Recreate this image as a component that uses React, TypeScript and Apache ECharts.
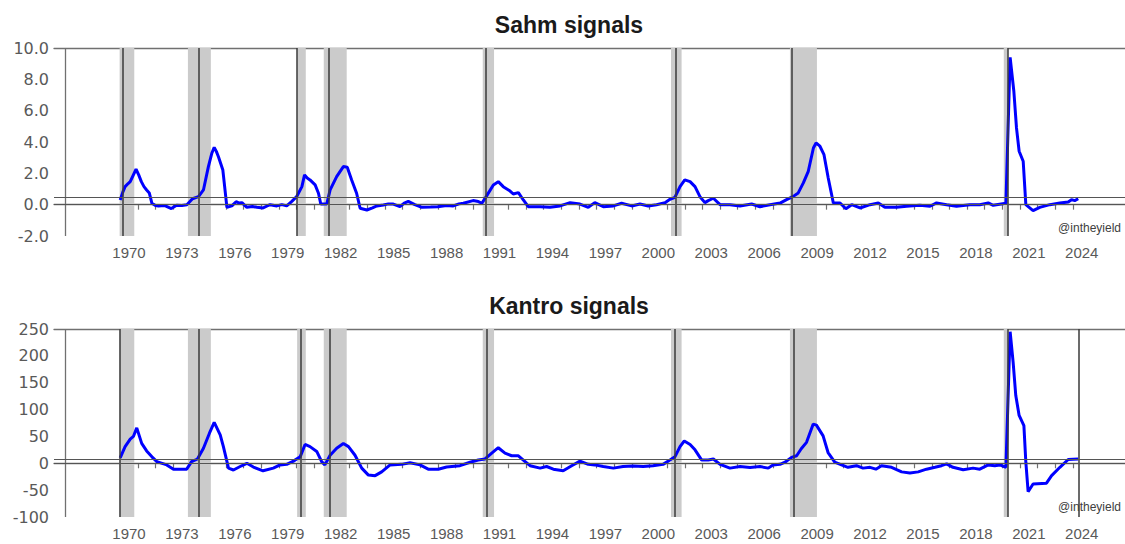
import React, { useEffect, useRef } from "react";
import * as echarts from "echarts";

// ---------- data ----------
const sahm: [number, number][] = [
  [1970.0, 0.3], [1970.15, 0.8], [1970.28, 1.15], [1970.45, 1.35], [1970.57, 1.47], [1970.75, 1.9], [1970.9, 2.26],
  [1971.05, 1.9], [1971.2, 1.47], [1971.35, 1.15], [1971.5, 0.94], [1971.65, 0.75], [1971.8, 0.09], [1972.0, -0.05],
  [1972.17, -0.08], [1972.5, -0.05], [1972.9, -0.25], [1973.2, -0.04], [1973.5, -0.05], [1973.78, 0.0], [1974.1, 0.38],
  [1974.44, 0.51], [1974.72, 0.94], [1975.0, 2.43], [1975.2, 3.3], [1975.33, 3.66], [1975.45, 3.4], [1975.57, 3.06],
  [1975.82, 2.21], [1976.05, -0.17], [1976.33, -0.08], [1976.57, 0.19], [1976.75, 0.1], [1976.9, 0.13], [1977.18, -0.17],
  [1977.5, -0.12], [1977.75, -0.17], [1978.1, -0.21], [1978.3, -0.1], [1978.5, 0.0], [1978.88, -0.08], [1979.16, 0.0],
  [1979.44, -0.08], [1979.73, 0.21], [1980.0, 0.51], [1980.3, 1.15], [1980.45, 1.9], [1980.6, 1.7], [1980.76, 1.58],
  [1981.05, 1.26], [1981.24, 0.73], [1981.37, 0.04], [1981.71, 0.04], [1981.9, 0.94], [1982.27, 1.79], [1982.65, 2.43],
  [1982.87, 2.39], [1983.12, 1.58], [1983.4, 0.73], [1983.6, -0.23], [1983.98, -0.34], [1984.3, -0.2], [1984.55, -0.08],
  [1984.92, -0.02], [1985.2, 0.05], [1985.48, 0.04], [1985.86, -0.13], [1986.1, 0.1], [1986.33, 0.21], [1986.7, 0.0],
  [1987.1, -0.17], [1987.6, -0.15], [1988.0, -0.13], [1988.5, -0.05], [1988.88, -0.08], [1989.2, 0.05], [1989.45, 0.09],
  [1990.0, 0.26], [1990.3, 0.2], [1990.5, 0.09], [1990.77, 0.56], [1991.15, 1.26], [1991.43, 1.47], [1991.71, 1.15],
  [1992.1, 0.87], [1992.28, 0.68], [1992.57, 0.77], [1992.85, 0.3], [1993.13, -0.13], [1993.8, -0.13], [1994.36, -0.17],
  [1994.93, -0.08], [1995.5, 0.13], [1996.06, 0.04], [1996.53, -0.17], [1996.9, 0.13], [1997.38, -0.13], [1997.95, -0.08],
  [1998.42, 0.09], [1998.99, -0.08], [1999.46, 0.04], [1999.93, -0.08], [2000.4, 0.0], [2000.88, 0.13], [2001.16, 0.34],
  [2001.44, 0.47], [2001.73, 1.15], [2002.0, 1.58], [2002.3, 1.47], [2002.58, 1.15], [2002.86, 0.51], [2003.14, 0.13],
  [2003.33, 0.26], [2003.62, 0.41], [2004.0, 0.0], [2004.56, 0.0], [2005.13, -0.08], [2005.79, 0.04], [2006.26, -0.13],
  [2006.83, 0.0], [2007.4, 0.1], [2007.77, 0.32], [2008.15, 0.53], [2008.43, 0.75], [2008.72, 1.39], [2009.0, 2.13],
  [2009.29, 3.62], [2009.44, 3.94], [2009.66, 3.73], [2009.89, 3.19], [2010.13, 1.7], [2010.42, 0.11], [2010.8, 0.11],
  [2011.13, -0.26], [2011.46, 0.0], [2011.93, -0.21], [2012.5, 0.0], [2012.97, 0.11], [2013.34, -0.17], [2014.0, -0.17],
  [2014.57, -0.1], [2015.32, -0.04], [2015.9, -0.1], [2016.27, 0.11], [2016.84, 0.0], [2017.4, -0.1], [2018.16, 0.0],
  [2018.72, 0.0], [2019.2, 0.11], [2019.48, -0.04], [2020.2, 0.09], [2020.44, 9.4], [2020.65, 7.24], [2020.8, 4.9],
  [2020.95, 3.41], [2021.18, 2.77], [2021.33, 0.0], [2021.74, -0.38], [2022.12, -0.17], [2022.69, 0.0], [2023.26, 0.11],
  [2023.73, 0.17], [2023.92, 0.32], [2024.1, 0.26], [2024.3, 0.38],
];

const kantro: [number, number][] = [
  [1970.0, 10], [1970.28, 31], [1970.57, 45], [1970.75, 50], [1970.94, 66], [1971.22, 37], [1971.5, 23], [1971.8, 12],
  [1972.08, 3], [1972.64, -3], [1973.02, -11], [1973.77, -11], [1974.05, 3], [1974.38, 8], [1974.72, 28], [1975.06, 56],
  [1975.33, 76], [1975.67, 53], [1975.85, 31], [1976.14, -9], [1976.42, -12.5], [1976.8, -6], [1977.18, 0], [1977.55, -7],
  [1978.1, -14], [1978.68, -9], [1979.06, -3], [1979.44, -2], [1979.82, 4], [1980.2, 12], [1980.48, 35], [1980.76, 31],
  [1981.14, 22], [1981.42, 3], [1981.6, -3], [1981.9, 15], [1982.27, 28], [1982.65, 37], [1982.94, 31], [1983.31, 15],
  [1983.69, -9], [1984.07, -22], [1984.45, -23], [1984.82, -16], [1985.3, -3], [1985.95, -2], [1986.43, 1], [1986.99, -3],
  [1987.46, -11], [1988.03, -11], [1988.5, -7], [1989.26, -4.5], [1989.83, 2], [1990.3, 6], [1990.68, 8], [1991.06, 19],
  [1991.43, 29], [1991.81, 19], [1992.19, 14], [1992.57, 14], [1992.85, 6], [1993.23, -4.5], [1993.8, -9], [1994.17, -6],
  [1994.55, -11], [1995.11, -14], [1995.59, -4.5], [1996.06, 4], [1996.53, -2], [1996.9, -3], [1997.38, -6], [1997.95, -9],
  [1998.5, -6], [1999.07, -5], [1999.64, -6], [2000.2, -4.5], [2000.77, -2], [2001.16, 6], [2001.44, 12], [2001.73, 31],
  [2001.97, 41.5], [2002.3, 35], [2002.58, 25], [2002.96, 6], [2003.33, 6], [2003.62, 8], [2004.0, -2], [2004.56, -9],
  [2005.13, -6], [2005.7, -8], [2006.26, -6], [2006.73, -9], [2007.0, -3], [2007.4, -2], [2007.68, 2], [2008.05, 11],
  [2008.34, 14], [2008.6, 27], [2008.9, 39], [2009.28, 73], [2009.46, 71], [2009.84, 51], [2010.12, 20], [2010.5, 2],
  [2010.88, -3], [2011.25, -7.5], [2011.73, -4.5], [2012.1, -9], [2012.5, -7.5], [2012.83, -11], [2013.15, -4.5],
  [2013.72, -7.5], [2014.29, -16], [2014.76, -18], [2015.23, -16], [2015.7, -11], [2016.18, -7.5], [2016.55, -4.5],
  [2016.84, -1], [2017.2, -7.5], [2017.78, -12], [2018.34, -9], [2018.72, -11], [2019.2, -3], [2019.57, -4.5],
  [2019.86, -3], [2020.2, -7.5], [2020.44, 245], [2020.61, 188], [2020.76, 126], [2020.95, 89], [2021.22, 70],
  [2021.33, 2], [2021.46, -53], [2021.74, -38.5], [2022.5, -37], [2022.79, -23], [2023.26, -7.5], [2023.73, 7],
  [2024.3, 8],
];

const recessions: [number, number][] = [
  [1969.97, 1970.8], [1973.84, 1975.14], [1980.03, 1980.52], [1981.54, 1982.84],
  [1990.55, 1991.19], [2001.22, 2001.82], [2007.96, 2009.49], [2020.08, 2020.33],
];
const sahmSignals = [1970.13, 1974.46, 1980.01, 1981.8, 1990.72, 2001.47, 2008.09, 2020.33];
const kantroSignals = [1969.98, 1974.48, 1980.25, 1981.9, 1990.77, 2001.44, 2008.19, 2020.33, 2024.33];
const sahmThreshold = 0.5;
const kantroThreshold = 8;
const yAxisCross = 1966.9;
const labelYears = [1970, 1973, 1976, 1979, 1982, 1985, 1988, 1991, 1994, 1997, 2000, 2003, 2006, 2009, 2012, 2015, 2018, 2021, 2024];
const tickYears = [
  1970, 1971, 1972, 1973, 1974, 1975, 1976, 1977, 1978, 1979, 1980, 1981, 1982, 1983, 1984, 1985, 1986, 1987, 1988, 1989,
  1990, 1991, 1992, 1993, 1994, 1995, 1996, 1997, 1998, 1999, 2000, 2001, 2002, 2003, 2004, 2005, 2006, 2007, 2008, 2009,
  2010, 2011, 2012, 2013, 2014, 2015, 2016, 2017, 2018, 2019, 2020, 2021, 2022, 2023, 2024,
];
const titles = ["Sahm signals", "Kantro signals"];
const watermark = "@intheyield";

// ---------- layout / style ----------
const X_MIN = 1966.25;
const X_MAX = 2026.95;
const GRID_LEFT = 54;
const GRID_TOPS = [48, 329];
const GRID_H = 188;
const AXIS_COLOR = "#707070";
const LABEL_COLOR = "#595959";
const FONT = "'Liberation Sans', Arial, sans-serif";
const YFONT = "'DejaVu Sans', sans-serif";

function buildPanel(i: number, data: [number, number][], yMin: number, yMax: number, yInt: number,
  fmt: (v: number) => string, signals: number[], threshold: number) {
  const xBottom = {
    type: "value", gridIndex: i, min: X_MIN, max: X_MAX, position: "bottom",
    axisLine: { show: true, lineStyle: { color: AXIS_COLOR, width: 1.3 } },
    axisTick: { show: true, length: 5, customValues: tickYears, lineStyle: { color: AXIS_COLOR, width: 1.2 } },
    axisLabel: {
      customValues: labelYears.map((y) => y + 0.5),
      formatter: (v: number) => String(Math.floor(v)),
      color: LABEL_COLOR, fontSize: 15, fontFamily: FONT, margin: 9,
    },
    splitLine: { show: false },
  };
  const xTop = {
    type: "value", gridIndex: i, min: X_MIN, max: X_MAX, position: "top",
    axisLine: { show: true, lineStyle: { color: AXIS_COLOR, width: 1.3 } },
    axisTick: { show: false }, axisLabel: { show: false }, splitLine: { show: false },
  };
  const yAxis = {
    type: "value", gridIndex: i, min: yMin, max: yMax, interval: yInt,
    axisLine: { show: false }, axisTick: { show: false }, splitLine: { show: false },
    axisLabel: { formatter: fmt, color: LABEL_COLOR, fontSize: 16, fontFamily: YFONT, margin: 5 },
  };
  const markers = {
    type: "line", xAxisIndex: i * 2, yAxisIndex: i, data: [], z: 1, silent: true,
    markArea: {
      silent: true,
      itemStyle: { color: "#cbcbcb" },
      data: recessions.map(([a, b]) => [{ xAxis: a }, { xAxis: b }]),
    },
    markLine: {
      silent: true, symbol: ["none", "none"], label: { show: false },
      lineStyle: { type: "solid", color: "#3a3a3a", width: 1.5 },
      data: [
        ...signals.map((s) => ({ xAxis: s })),
        { xAxis: yAxisCross, lineStyle: { type: "solid", color: AXIS_COLOR, width: 1.3 } },
        { yAxis: 0, lineStyle: { type: "solid", color: "#555555", width: 1.2 } },
        { yAxis: threshold, lineStyle: { type: "solid", color: "#555555", width: 1.2 } },
      ],
    },
  };
  const line = {
    type: "line", xAxisIndex: i * 2, yAxisIndex: i, data, z: 3, showSymbol: false, symbol: "none",
    lineStyle: { color: "#0000ff", width: 3 }, silent: true,
  };
  return { xAxes: [xBottom, xTop], yAxis, series: [markers, line] };
}

export default function App() {
  const ref = useRef<HTMLDivElement>(null);
  useEffect(() => {
    if (!ref.current) return;
    const chart = echarts.init(ref.current, undefined, { renderer: "svg" });
    const p1 = buildPanel(0, sahm, -2, 10, 2, (v: number) => v.toFixed(1), sahmSignals, sahmThreshold);
    const p2 = buildPanel(1, kantro, -100, 250, 50, (v: number) => String(v), kantroSignals, kantroThreshold);
    chart.setOption({
      animation: false,
      backgroundColor: "#ffffff",
      grid: GRID_TOPS.map((t) => ({ left: GRID_LEFT, right: 0, top: t, height: GRID_H, containLabel: false })),
      xAxis: [...p1.xAxes, ...p2.xAxes],
      yAxis: [p1.yAxis, p2.yAxis],
      series: [...p1.series, ...p2.series],
      graphic: [
        { type: "text", x: 569, y: 25, style: { text: titles[0], align: "center", verticalAlign: "middle", fontSize: 23, fontWeight: "bold", fontFamily: FONT, fill: "#1a1a1a" } },
        { type: "text", x: 569, y: 306, style: { text: titles[1], align: "center", verticalAlign: "middle", fontSize: 23, fontWeight: "bold", fontFamily: FONT, fill: "#1a1a1a" } },
        { type: "text", x: 1121, y: 228, style: { text: watermark, align: "right", verticalAlign: "middle", fontSize: 12, fontFamily: FONT, fill: "#404040" } },
        { type: "text", x: 1121, y: 507, style: { text: watermark, align: "right", verticalAlign: "middle", fontSize: 12, fontFamily: FONT, fill: "#404040" } },
      ],
    });
    return () => chart.dispose();
  }, []);
  return (
    <div
      ref={ref}
      style={{ position: "absolute", left: 0, top: 0, width: 1125, height: 544, background: "#fff" }}
    />
  );
}
